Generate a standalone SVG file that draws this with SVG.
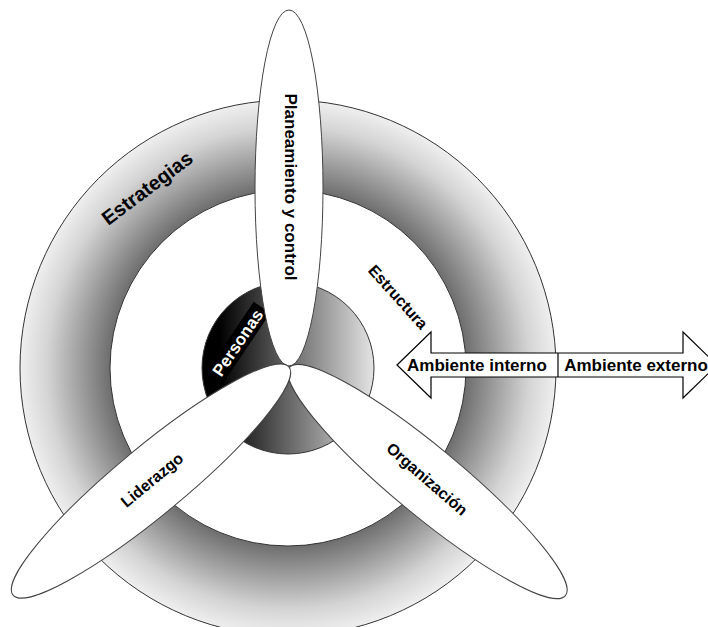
<svg xmlns="http://www.w3.org/2000/svg" width="708" height="627" viewBox="0 0 708 627">
<defs>
<radialGradient id="gRing" gradientUnits="userSpaceOnUse" cx="288" cy="368" r="268">
<stop offset="0.664" stop-color="#6e6e6e"/>
<stop offset="0.9" stop-color="#d4d4d4"/>
<stop offset="1" stop-color="#efefef"/>
</radialGradient>
<linearGradient id="gDisk" x1="0" y1="0" x2="1" y2="0">
<stop offset="0.1" stop-color="#000000"/>
<stop offset="1" stop-color="#e4e4e4"/>
</linearGradient>
<style>
.edge{stroke:#333;stroke-width:1}
.petal{fill:#fff;stroke:#444;stroke-width:1}
.lbl{font-family:"Liberation Sans",Arial,sans-serif;font-weight:bold;fill:#000;text-anchor:middle;dominant-baseline:central}
</style>
</defs>
<rect width="708" height="627" fill="#fff"/>
<g id="ring-estrategias">
<path class="edge" fill="url(#gRing)" fill-rule="evenodd" d="M20 368A268 268 0 1 0 556 368A268 268 0 1 0 20 368ZM110 368A178 178 0 1 0 466 368A178 178 0 1 0 110 368Z"/>
<text class="lbl" font-size="20" transform="translate(147 188) rotate(-37)">Estrategias</text>
</g>
<g id="disk-personas">
<circle class="edge" cx="288" cy="368" r="86" fill="url(#gDisk)"/>
<g transform="translate(238 343) rotate(-56)">
<rect x="-43" y="-10" width="86" height="20" fill="#000"/>
<text class="lbl" font-size="17" style="fill:#fff">Personas</text>
</g>
</g>
<g id="petal-planeamiento">
<ellipse class="petal" cx="289" cy="188" rx="34" ry="178"/>
<text class="lbl" font-size="17" transform="translate(290 187) rotate(90)">Planeamiento y control</text>
</g>
<g id="petal-organizacion">
<ellipse class="petal" cx="427.5" cy="481.5" rx="179" ry="34" transform="rotate(39.6 427.5 481.5)"/>
<text class="lbl" font-size="16" transform="translate(427 479) rotate(41)">Organización</text>
</g>
<g id="petal-liderazgo">
<ellipse class="petal" cx="151" cy="481" rx="179" ry="34" transform="rotate(-39.6 151 481)"/>
<text class="lbl" font-size="16" transform="translate(152 480) rotate(-39.6)">Liderazgo</text>
</g>
<g id="label-estructura">
<text class="lbl" font-size="16" transform="translate(398 297) rotate(48)">Estructura</text>
</g>
<g id="connectors">
<polygon fill="#fff" stroke="#000" stroke-width="1.2" points="397,365 431,332 431,353 683,353 683,332 717,365 683,398 683,377 431,377 431,398"/>
<line x1="558" y1="353" x2="558" y2="377" stroke="#000" stroke-width="1.2"/>
<text class="lbl" font-size="17" x="477" y="365">Ambiente interno</text>
<text class="lbl" font-size="17" x="636" y="365">Ambiente externo</text>
</g>
</svg>
